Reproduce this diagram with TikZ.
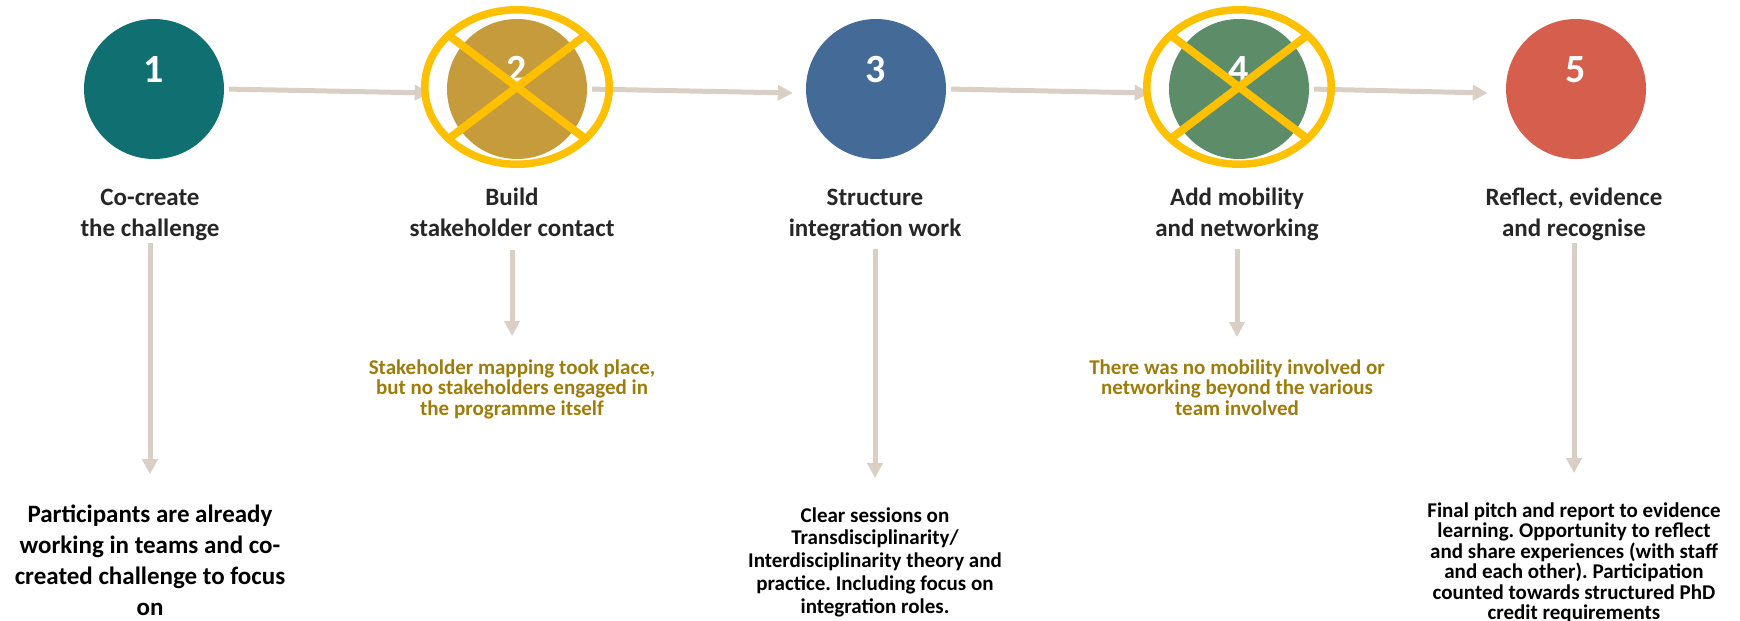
\documentclass[tikz,border=0pt]{standalone}
\usepackage{fontspec}
\setmainfont{Carlito}
\frenchspacing
\usetikzlibrary{arrows.meta, positioning, calc}
\definecolor{stepteal}{HTML}{106F70}
\definecolor{stepgold}{HTML}{C59B3C}
\definecolor{stepblue}{HTML}{446A98}
\definecolor{stepgreen}{HTML}{5C8C68}
\definecolor{stepred}{HTML}{D65E4C}
\definecolor{crossamber}{HTML}{FFC000}
\definecolor{flowgray}{HTML}{D9CFC4}
\definecolor{notegold}{HTML}{9E7C0C}
\definecolor{titlegray}{HTML}{262626}

\begin{document}
\begin{tikzpicture}[
    x=1pt, y=-1pt,
    stp/.style={circle, minimum size=140pt, inner sep=0pt},
    num/.style={anchor=base, inner sep=0pt, text=white, font=\fontsize{40}{40}\selectfont\bfseries},
    ttl/.style={anchor=base, align=center, inner sep=0pt, text=titlegray, font=\fontsize{25}{31}\selectfont\bfseries},
    det/.style={anchor=base, align=center, inner sep=0pt, font=\fontsize{25}{31}\selectfont\bfseries},
    detsm/.style={anchor=base, align=center, inner sep=0pt, font=\fontsize{21}{20.5}\selectfont\bfseries},
    note/.style={detsm, text=notegold},
    ringmark/.style={draw=crossamber, line width=7.5pt},
    crossmark/.style={draw=crossamber, line width=8pt},
    flow/.style={-{Triangle[length=15pt, width=15pt]}, line width=5pt, flowgray},
]
    \useasboundingbox (0,0) rectangle (1740,621);

    % Steps
    \node[stp, fill=stepteal] (c1) at (154,89) {};
    \node[stp, fill=stepgold] (c2) at (517,89) {};
    \node[stp, fill=stepblue] (c3) at (876,89) {};
    \node[stp, fill=stepgreen] (c4) at (1239,89) {};
    \node[stp, fill=stepred] (c5) at (1576,89) {};

    \node[num] (n1) at (154,82) {1};
    \node[num] (n2) at (517,82) {2};
    \node[num] (n3) at (876,82) {3};
    \node[num] (n4) at (1239,82) {4};
    \node[num] (n5) at (1576,82) {5};

    % Flow between steps
    \draw[flow, shorten <=5pt] (c1.east) -- ([xshift=-17pt, yshift=-4pt]c2.west);
    \draw[flow, shorten <=5pt] (c2.east) -- ([xshift=-13pt, yshift=-4pt]c3.west);
    \draw[flow, shorten <=5pt] (c3.east) -- ([xshift=-19pt, yshift=-4pt]c4.west);
    \draw[flow, shorten <=5pt] (c4.east) -- ([xshift=-18pt, yshift=-4pt]c5.west);

    % Crossed-out steps
    \coordinate (x2) at (517,87);
    \coordinate (x4) at (1239,87);
    \draw[ringmark] (x2) ellipse [x radius=92.25pt, y radius=77.25pt];
    \draw[crossmark] ([shift={(-66,-50)}]x2) -- ([shift={(66,50)}]x2);
    \draw[crossmark] ([shift={(66,-50)}]x2) -- ([shift={(-66,50)}]x2);
    \draw[ringmark] (x4) ellipse [x radius=92.25pt, y radius=77.25pt];
    \draw[crossmark] ([shift={(-66,-50)}]x4) -- ([shift={(66,50)}]x4);
    \draw[crossmark] ([shift={(66,-50)}]x4) -- ([shift={(-66,50)}]x4);

    % Titles (anchored at the last baseline)
    \node[ttl] (t1) at (150,236) {Co-create\\the challenge};
    \node[ttl] (t2) at (512,236) {Build\\stakeholder contact};
    \node[ttl] (t3) at (875,236) {Structure\\integration work};
    \node[ttl] (t4) at (1237,236) {Add mobility\\and networking};
    \node[ttl] (t5) at (1574,236) {Reflect, evidence\\and recognise};

    % Details (below)
    \node[det] (d1) at (150,615) {Participants are already\\working in teams and co-\\created challenge to focus\\on};
    \node[note] (d2) at (512,415) {Stakeholder mapping took place,\\but no stakeholders engaged in\\the programme itself};
    \node[detsm, font=\fontsize{21}{22.75}\selectfont\bfseries] (d3) at (875,613) {Clear sessions on\\Transdisciplinarity/\\Interdisciplinarity theory and\\practice. Including focus on\\integration roles.};
    \node[note] (d4) at (1237,415) {There was no mobility involved or\\networking beyond the various\\team involved};
    \node[detsm] (d5) at (1574,619.5) {Final pitch and report to evidence\\learning. Opportunity to reflect\\and share experiences (with staff\\and each other). Participation\\counted towards structured PhD\\credit requirements};

    \draw[flow, shorten <=3pt, shorten >=30pt] (t1.south) -- (d1.north);
    \draw[flow, shorten <=14pt, shorten >=23pt] (t2.south) -- (d2.north);
    \draw[flow, shorten <=9pt, shorten >=29pt] (t3.south) -- (d3.north);
    \draw[flow, shorten <=9pt, shorten >=22pt] (t4.south) -- (d4.north);
    \draw[flow, shorten <=3pt, shorten >=29pt] (t5.south) -- (d5.north);
\end{tikzpicture}
\end{document}
